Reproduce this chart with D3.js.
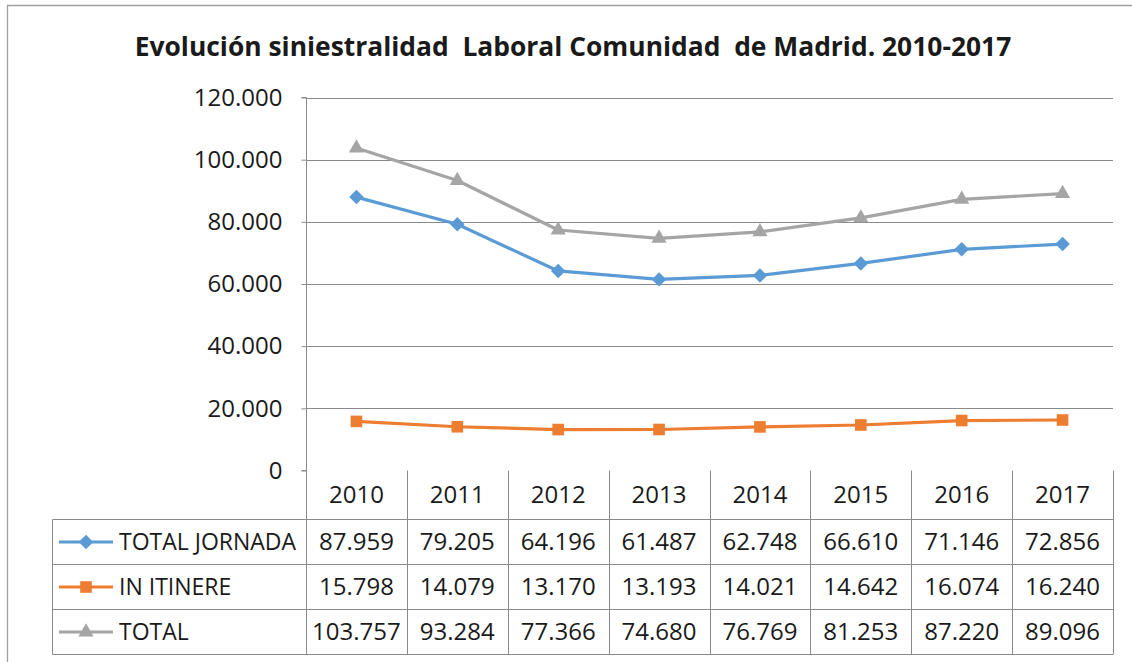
<!DOCTYPE html>
<html><head><meta charset="utf-8">
<script src="https://cdn.jsdelivr.net/npm/d3@7/dist/d3.min.js"></script>
<style>
html,body{margin:0;padding:0;background:#fff;}
svg{display:block;}
text{font-family:"Open Sans",sans-serif;fill:#1a1a1a;}
</style></head>
<body>
<svg id="chart" width="1132" height="662"></svg>
<script>
const title = "Evolución siniestralidad  Laboral Comunidad  de Madrid. 2010-2017";
const years = ["2010","2011","2012","2013","2014","2015","2016","2017"];
const seriesNames = ["TOTAL JORNADA","IN ITINERE","TOTAL"];
const totalJornada = [87959,79205,64196,61487,62748,66610,71146,72856];
const inItinere = [15798,14079,13170,13193,14021,14642,16074,16240];
const total = [103757,93284,77366,74680,76769,81253,87220,89096];
const yTicks = [0,20000,40000,60000,80000,100000,120000];

const seriesValues = [totalJornada, inItinere, total];
const colors = ["#5B9BD5","#ED7D31","#A5A5A5"];
const symbols = [d3.symbolSquare, d3.symbolSquare, d3.symbolTriangle];
const symSize = [105, 135, 100];
const symRot = [45, 0, 0];

const svg = d3.select("#chart");
const loc = d3.formatLocale({decimal:",",thousands:".",grouping:[3],currency:["",""]});
const fmt = loc.format(",d");

const L = 306, R = 1113, T = 97.5, B = 470.5;
const rowH = 45, headH = 49, tableLeft = 52.5;
const gridColor = "#8a8a8a";

// frame (left + top)
svg.append("path").attr("d", `M7.5,662 V5.5 H1132`).attr("fill","none").attr("stroke","#a0a0a0").attr("stroke-width",1.3);

// title
const tt = svg.append("text").attr("x",573).attr("y",56).attr("text-anchor","middle")
  .attr("font-weight","bold").attr("font-size",26).style("white-space","pre").text(title);
const tw = tt.node().getComputedTextLength();
tt.attr("font-size", 26*877/tw);

const x = d3.scaleBand().domain(years).range([L,R]).paddingInner(0).paddingOuter(0);
const y = d3.scaleLinear().domain([0,120000]).range([B,T]);

// gridlines
svg.append("g").selectAll("line").data(yTicks.filter(d=>d>0)).join("line")
  .attr("x1",L).attr("x2",R).attr("y1",d=>Math.round(y(d))+0.5).attr("y2",d=>Math.round(y(d))+0.5)
  .attr("stroke",gridColor).attr("stroke-width",1);

// y axis
const yAxis = d3.axisLeft(y).tickValues(yTicks).tickSize(5).tickPadding(19).tickFormat(fmt);
const ga = svg.append("g").attr("transform",`translate(${L+0.5},0)`).call(yAxis);
ga.select(".domain").attr("stroke",gridColor).attr("d",`M-5,${B}H0V${T}H-5`);
ga.selectAll(".tick line").attr("stroke",gridColor);
ga.selectAll(".tick text").attr("font-size",24).attr("fill","#1a1a1a").attr("font-family","Open Sans");

// series lines
const line = d3.line().x((d,i)=>x(years[i])+x.bandwidth()/2).y(d=>y(d));
seriesValues.forEach((vals,s)=>{
  svg.append("path").datum(vals).attr("d",line).attr("fill","none")
    .attr("stroke",colors[s]).attr("stroke-width",3.2).attr("stroke-linejoin","round");
});
seriesValues.forEach((vals,s)=>{
  svg.append("g").selectAll("path").data(vals).join("path")
    .attr("d",d3.symbol(symbols[s],symSize[s]))
    .attr("transform",(d,i)=>`translate(${x(years[i])+x.bandwidth()/2},${y(d)}) rotate(${symRot[s]})`)
    .attr("fill",colors[s]);
});

// data table
const tb = svg.append("g").attr("stroke",gridColor).attr("stroke-width",1).attr("fill","none");
const rowTops = [B+headH, B+headH+rowH, B+headH+2*rowH, B+headH+3*rowH];
rowTops.forEach(yy=>tb.append("line").attr("x1",tableLeft).attr("x2",R).attr("y1",yy).attr("y2",yy));
tb.append("line").attr("x1",tableLeft).attr("x2",tableLeft).attr("y1",rowTops[0]).attr("y2",rowTops[3]);
years.forEach(yr=>{
  const xx = Math.round(x(yr)+x.bandwidth())+0.5;
  tb.append("line").attr("x1",xx).attr("x2",xx).attr("y1",B).attr("y2",rowTops[3]);
});
tb.append("line").attr("x1",L+0.5).attr("x2",L+0.5).attr("y1",B).attr("y2",rowTops[3]);

// header years
svg.append("g").selectAll("text").data(years).join("text")
  .attr("x",d=>x(d)+x.bandwidth()/2).attr("y",B+headH/2).attr("dy","0.35em")
  .attr("text-anchor","middle").attr("font-size",24).text(d=>d);

// rows
seriesValues.forEach((vals,s)=>{
  const cy = rowTops[s]+rowH/2;
  svg.append("g").selectAll("text").data(vals).join("text")
    .attr("x",(d,i)=>x(years[i])+x.bandwidth()/2).attr("y",cy).attr("dy","0.35em")
    .attr("text-anchor","middle").attr("font-size",24).text(d=>fmt(d));
  // legend key
  svg.append("line").attr("x1",59).attr("x2",113).attr("y1",cy).attr("y2",cy)
    .attr("stroke",colors[s]).attr("stroke-width",3.2);
  svg.append("path").attr("d",d3.symbol(symbols[s],symSize[s]))
    .attr("transform",`translate(86,${cy}) rotate(${symRot[s]})`).attr("fill",colors[s]);
  svg.append("text").attr("x",119).attr("y",cy).attr("dy","0.35em")
    .attr("font-size",23).text(seriesNames[s]);
});
</script>
</body></html>
